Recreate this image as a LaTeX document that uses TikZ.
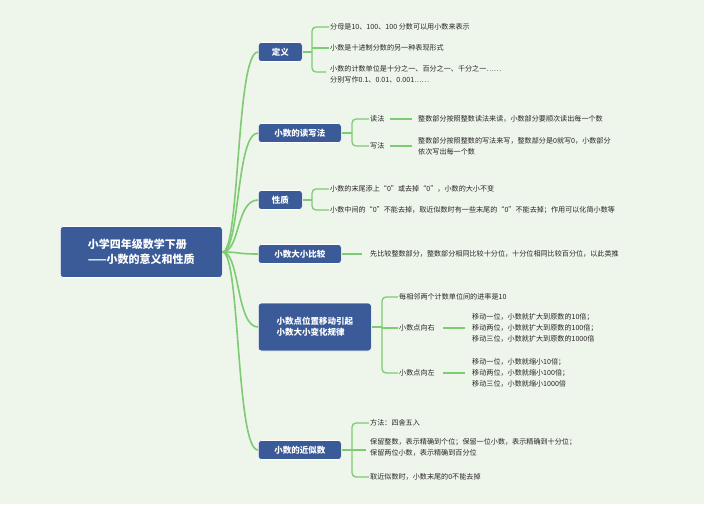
\documentclass[tikz,border=0pt]{standalone}
\usepackage{fontspec}
\setmainfont{Noto Sans CJK SC}
\usetikzlibrary{positioning}
\definecolor{bgc}{HTML}{EEF5EA}
\definecolor{boxc}{HTML}{3B5B98}
\definecolor{linec}{HTML}{7DCB72}
\tikzset{
  topic/.style={draw=white, line width=0.6pt, fill=boxc, rounded corners=3pt, text=white, font=\fontsize{8.5}{11}\selectfont\bfseries, minimum height=19pt, inner xsep=5pt, align=left, anchor=west},
  leaf/.style={font=\fontsize{7.1}{11}\selectfont, anchor=west, inner sep=1pt, align=left, text=black!85},
  link/.style={linec, line width=1.6pt},
  br/.style={linec, line width=1.3pt, rounded corners=4pt}
}
\begin{document}
\begin{tikzpicture}[x=1pt,y=-1pt]
\fill[bgc] (0,0) rectangle (704,504);
\useasboundingbox (0,0) rectangle (704,504);

% root
\node[topic, minimum width=162pt, minimum height=51pt, font=\fontsize{11}{15}\selectfont\bfseries] (root) at (60,252) {小学四年级数学下册\\——小数的意义和性质};

% branches
\node[topic, minimum width=44pt] (def) at (258,52) {定义};
\node[topic, minimum width=83pt] (rw) at (258,133) {小数的读写法};
\node[topic, minimum width=44pt] (prop) at (258,200) {性质};
\node[topic, minimum width=83pt] (cmp) at (258,254) {小数大小比较};
\node[topic, minimum width=113pt, minimum height=48pt] (move) at (258,327) {小数点位置移动引起\\小数大小变化规律};
\node[topic, minimum width=83pt] (appr) at (258,450) {小数的近似数};

\foreach \b/\y in {def/52,rw/133,prop/200,cmp/254,move/327,appr/450}
  \draw[link] (root.east) .. controls (240,252) and (236,\y) .. (\b.west);

% 定义
\node[leaf] (d1) at (329,27) {分母是10、100、100 分数可以用小数来表示};
\node[leaf] (d2) at (329,48) {小数是十进制分数的另一种表现形式};
\node[leaf] (d3) at (329,74) {小数的计数单位是十分之一、百分之一、千分之一……\\分别写作0.1、0.01、0.001……};
\draw[br] (def.east) -- (312,52);
\draw[br] (d1.west) -- (312,27) -- (312,72) -- (326,72);
\draw[br] (312,48) -- (d2.west);

% 读写法
\node[leaf] (r1) at (369,119) {读法};
\node[leaf] (r2) at (369,146) {写法};
\node[leaf] (r1t) at (417,119) {整数部分按照整数读法来读，小数部分要顺次读出每一个数};
\node[leaf] (r2t) at (417,146) {整数部分按照整数的写法来写，整数部分是0就写0，小数部分\\依次写出每一个数};
\draw[br] (rw.east) -- (352,133);
\draw[br] (r1.west) -- (352,119) -- (352,146) -- (r2.west);
\draw[link] (390,119) -- (412,119);
\draw[link] (390,146) -- (412,146);

% 性质
\node[leaf] (p1) at (329,189) {小数的末尾添上“0”或去掉“0”，小数的大小不变};
\node[leaf] (p2) at (329,210) {小数中间的“0”不能去掉，取近似数时有一些末尾的“0”不能去掉；作用可以化简小数等};
\draw[br] (prop.east) -- (312,200);
\draw[br] (p1.west) -- (312,189) -- (312,210) -- (p2.west);

% 比较
\node[leaf] (c1) at (369,254) {先比较整数部分，整数部分相同比较十分位，十分位相同比较百分位，以此类推};
\draw[link] (cmp.east) -- (362,254);

% 移动规律
\node[leaf] (m1) at (398,297) {每相邻两个计数单位间的进率是10};
\node[leaf] (m2) at (398,328) {小数点向右};
\node[leaf] (m3) at (398,373) {小数点向左};
\node[leaf] (m2t) at (471,328) {移动一位，小数就扩大到原数的10倍；\\移动两位，小数就扩大到原数的100倍；\\移动三位，小数就扩大到原数的1000倍};
\node[leaf] (m3t) at (471,373) {移动一位，小数就缩小10倍；\\移动两位，小数就缩小100倍；\\移动三位，小数就缩小1000倍};
\draw[br] (move.east) -- (382,327);
\draw[br] (m1.west) -- (382,297) -- (382,373) -- (m3.west);
\draw[br] (382,328) -- (m2.west);
\draw[link] (443,328) -- (465,328);
\draw[link] (443,373) -- (465,373);

% 近似数
\node[leaf] (a1) at (369,423) {方法：四舍五入};
\node[leaf] (a2) at (369,447) {保留整数，表示精确到个位；保留一位小数，表示精确到十分位；\\保留两位小数，表示精确到百分位};
\node[leaf] (a3) at (369,477) {取近似数时，小数末尾的0不能去掉};
\draw[br] (appr.east) -- (352,450);
\draw[br] (a1.west) -- (352,423) -- (352,477) -- (a3.west);
\draw[br] (352,450) -- (366,450);
\end{tikzpicture}
\end{document}
